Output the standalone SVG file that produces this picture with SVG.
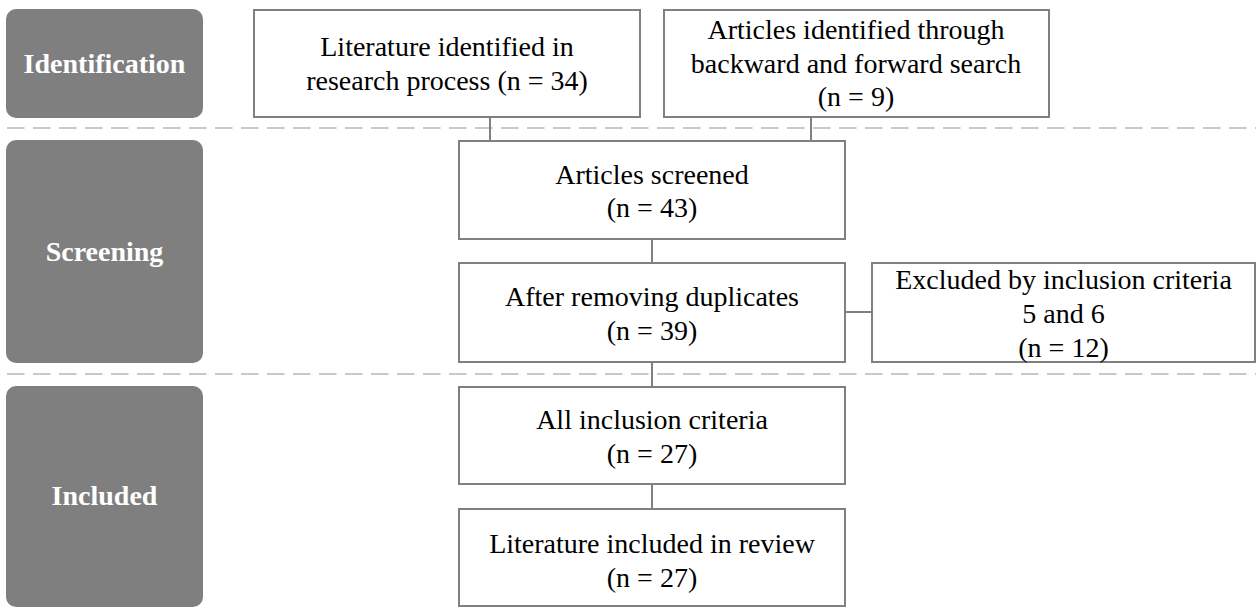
<svg xmlns="http://www.w3.org/2000/svg" width="1256" height="608" viewBox="0 0 1256 608">
<style>
.phase{fill:#7f7f7f;}
.plabel{font-family:"Liberation Serif","Times New Roman",serif;font-weight:bold;font-size:28px;fill:#ffffff;text-anchor:middle;}
.box{fill:#ffffff;stroke:#808080;stroke-width:2;}
.t{font-family:"Liberation Serif","Times New Roman",serif;font-size:28px;fill:#000000;text-anchor:middle;}
.sep{stroke:#c8c8c8;stroke-width:2;stroke-dasharray:17.5 8.5;fill:none;}
.conn{stroke:#808080;stroke-width:2;fill:none;}
</style>
<rect width="1256" height="608" fill="#ffffff"/>
<g id="separators">
<line class="sep" x1="7" y1="128" x2="1256" y2="128"/>
<line class="sep" x1="7" y1="374" x2="1256" y2="374"/>
</g>
<g id="phase-identification">
<rect class="phase" x="6" y="9" width="197" height="109" rx="10"/>
<text class="plabel" x="104.5" y="73">Identification</text>
</g>
<g id="phase-screening">
<rect class="phase" x="6" y="140" width="197" height="223" rx="10"/>
<text class="plabel" x="104.5" y="261">Screening</text>
</g>
<g id="phase-included">
<rect class="phase" x="6" y="386" width="197" height="221" rx="10"/>
<text class="plabel" x="104.5" y="505">Included</text>
</g>
<g id="connectors">
<line class="conn" x1="490" y1="117" x2="490" y2="141"/>
<line class="conn" x1="811" y1="117" x2="811" y2="141"/>
<line class="conn" x1="652" y1="239" x2="652" y2="263"/>
<line class="conn" x1="652" y1="362" x2="652" y2="387"/>
<line class="conn" x1="652" y1="484" x2="652" y2="509"/>
<line class="conn" x1="845" y1="312" x2="872" y2="312"/>
</g>
<g id="literature-identified">
<rect class="box" x="254" y="10" width="386" height="107"/>
<text class="t" x="447" y="56">Literature identified in</text>
<text class="t" x="447" y="90">research process (n = 34)</text>
</g>
<g id="articles-identified">
<rect class="box" x="664" y="10" width="385" height="107"/>
<text class="t" x="856" y="39">Articles identified through</text>
<text class="t" x="856" y="73">backward and forward search</text>
<text class="t" x="856" y="106">(n = 9)</text>
</g>
<g id="articles-screened">
<rect class="box" x="459" y="141" width="386" height="98"/>
<text class="t" x="652" y="184">Articles screened</text>
<text class="t" x="652" y="217">(n = 43)</text>
</g>
<g id="after-duplicates">
<rect class="box" x="459" y="263" width="386" height="99"/>
<text class="t" x="652" y="306">After removing duplicates</text>
<text class="t" x="652" y="340">(n = 39)</text>
</g>
<g id="excluded">
<rect class="box" x="872" y="263" width="383" height="99"/>
<text class="t" x="1063.5" y="289">Excluded by inclusion criteria</text>
<text class="t" x="1063.5" y="323">5 and 6</text>
<text class="t" x="1063.5" y="357">(n = 12)</text>
</g>
<g id="all-inclusion">
<rect class="box" x="459" y="387" width="386" height="97"/>
<text class="t" x="652" y="429">All inclusion criteria</text>
<text class="t" x="652" y="463">(n = 27)</text>
</g>
<g id="literature-included">
<rect class="box" x="459" y="509" width="386" height="97"/>
<text class="t" x="652" y="553">Literature included in review</text>
<text class="t" x="652" y="587">(n = 27)</text>
</g>
</svg>
